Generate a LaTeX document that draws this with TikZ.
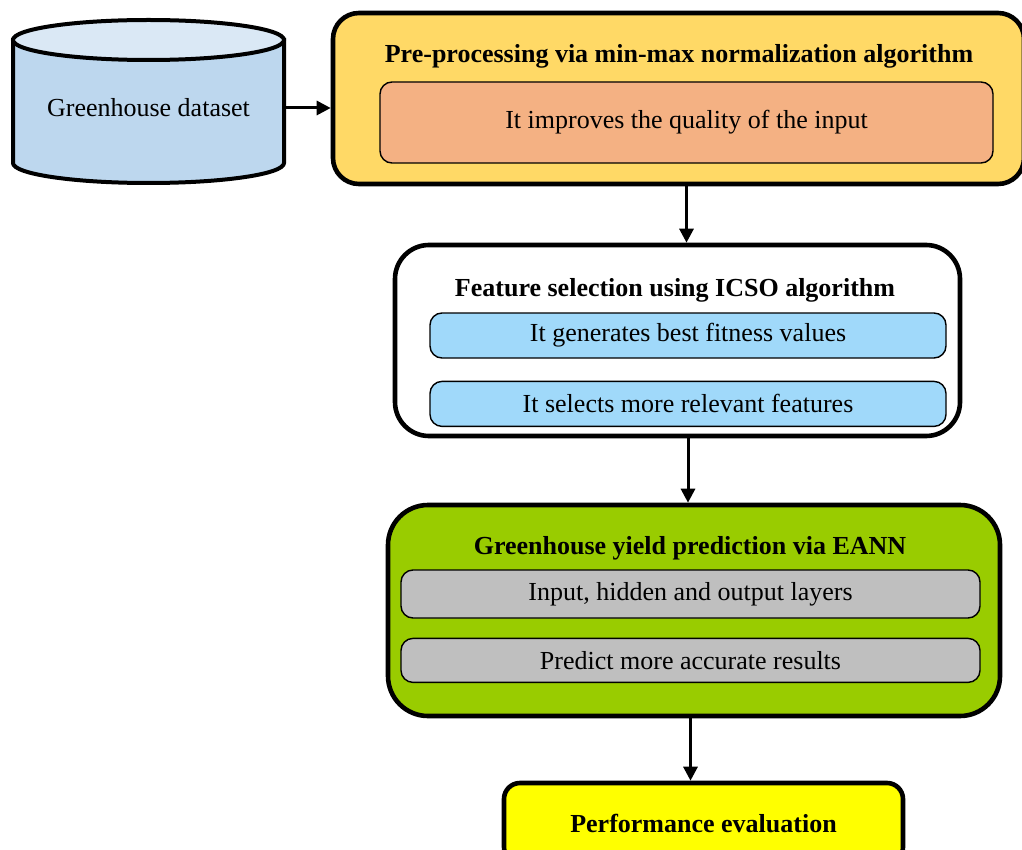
\documentclass[tikz,border=0pt]{standalone}
\usepackage{fontspec}
\setmainfont{Liberation Serif}
\usepackage{tikz}
\usetikzlibrary{positioning}
\usetikzlibrary{arrows.meta}
\definecolor{cyltop}{HTML}{DAE8F5}
\definecolor{cylbody}{HTML}{BDD7EE}
\definecolor{preyellow}{HTML}{FFD966}
\definecolor{preorange}{HTML}{F4B183}
\definecolor{featblue}{HTML}{A0D9FA}
\definecolor{eanngreen}{HTML}{99CC00}
\definecolor{layergrey}{HTML}{BFBFBF}
\definecolor{perfyellow}{HTML}{FFFF00}

\begin{document}
\begin{tikzpicture}[x=0.5pt, y=0.5pt, font=\fontsize{13}{15}\selectfont,
    outerbox/.style={draw, line width=2.3pt, inner sep=0pt},
    innerbox/.style={draw, line width=0.7pt, rounded corners=6pt, inner sep=0pt},
    flow/.style={-{Triangle[length=7pt,width=7pt]}, line width=1.5pt}]
    \useasboundingbox (0,0) rectangle (1022,-850);

    % dataset cylinder
    \draw[line width=2pt, fill=cylbody] (13,-40) -- (13,-163) arc[start angle=180, end angle=360, x radius=67.75pt, y radius=10pt] -- (284,-40) -- cycle;
    \draw[line width=2pt, fill=cyltop] (148.5,-40) ellipse [x radius=67.75pt, y radius=10pt];
    \node(data) at (148.5,-108) [minimum width=135.5pt] {Greenhouse dataset};

    % pre-processing
    \node(pre) at (678.5,-98.5) [outerbox, rounded corners=13pt, fill=preyellow, minimum width=345.5pt, minimum height=85.5pt] {};
    \node(pretitle) at (679,-56) {\textbf{Pre-processing via min-max normalization algorithm}};
    \node(prebody) at (686.5,-122.5) [innerbox, fill=preorange, minimum width=306.5pt, minimum height=40.5pt] {It improves the quality of the input};

    % feature selection
    \node(feat) at (677.5,-340.5) [outerbox, rounded corners=17pt, fill=white, minimum width=282.5pt, minimum height=95.5pt] {};
    \node(feattitle) at (675,-290) {\textbf{Feature selection using ICSO algorithm}};
    \node(fit) at (688,-335.5) [innerbox, fill=featblue, minimum width=258pt, minimum height=22.5pt] {It generates best fitness values};
    \node(rel) [below=11pt of fit, innerbox, fill=featblue, minimum width=258pt, minimum height=22.5pt] {It selects more relevant features};

    % prediction
    \node(eann) at (694,-610.5) [outerbox, rounded corners=20pt, fill=eanngreen, minimum width=306pt, minimum height=105.5pt] {};
    \node(eanntitle) at (690,-548) {\textbf{Greenhouse yield prediction via EANN}};
    \node(layers) at (690.5,-594) [innerbox, fill=layergrey, minimum width=289.5pt, minimum height=24pt] {Input, hidden and output layers};
    \node(acc) [below=9.5pt of layers, innerbox, fill=layergrey, minimum width=289.5pt, minimum height=22pt] {Predict more accurate results};

    % evaluation
    \node(perf) at (703.5,-823) [outerbox, rounded corners=8pt, fill=perfyellow, minimum width=199.5pt, minimum height=40pt] {\textbf{Performance evaluation}};

    \draw[flow](data.east) -- (data.east -| pre.west);
    \draw[flow](prebody.south |- pre.south) -- (prebody.south |- feat.north);
    \draw[flow](fit.south |- feat.south) -- (fit.south |- eann.north);
    \draw[flow](layers.south |- eann.south) -- (layers.south |- perf.north);
\end{tikzpicture}
\end{document}
